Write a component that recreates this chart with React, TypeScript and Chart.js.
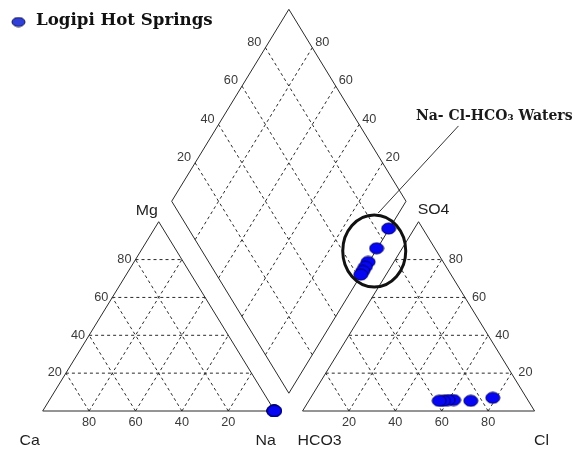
import { useEffect, useRef } from "react";
import { Chart, registerables } from "chart.js";

Chart.register(...registerables);

// Sample series: Logipi hot spring waters (meq % of total cations / anions)
const seriesLabel = "Logipi Hot Springs";
const groupNote = "Na- Cl-HCO₃ Waters";

const caPct = [0.2, 0.2, 0.3, 0.2, 0.2, 0.1];
const mgPct = [0.1, 0.1, 0.1, 0.1, 0.1, 0.1];
const naPct = [99.7, 99.7, 99.6, 99.7, 99.7, 99.8];

const hco3Pct = [14.5, 24.8, 32.0, 34.4, 36.6, 38.4];
const so4Pct = [7.0, 5.4, 5.8, 5.8, 5.4, 5.4];
const clPct = [78.5, 69.8, 62.2, 59.8, 58.0, 56.2];

const gridSteps = [20, 40, 60, 80];
const cationCorners = ["Ca", "Mg", "Na"];
const anionCorners = ["HCO3", "SO4", "Cl"];

// Layout of the Piper plot in data units (triangle side = 100 across, height = 100 up)
const ANION_OFFSET = 112;
const DIAMOND_BASE = { x: 106.1, y: 9.4 };
const DIAMOND_DX = 50.5;
const DIAMOND_DY = 101.4;

type Pt = { x: number; y: number };

const cationXY = (ca: number, mg: number, na: number): Pt => {
  const s = ca + mg + na;
  return { x: ((na + mg / 2) / s) * 100, y: (mg / s) * 100 };
};
const anionXY = (hco3: number, so4: number, cl: number): Pt => {
  const s = hco3 + so4 + cl;
  return { x: ANION_OFFSET + ((cl + so4 / 2) / s) * 100, y: (so4 / s) * 100 };
};
// na: Na+K %, hco3: HCO3 % -> position in the central diamond
const diamondXY = (na: number, hco3: number): Pt => {
  const a = (100 - hco3) / 100;
  const b = (100 - na) / 100;
  return {
    x: DIAMOND_BASE.x + a * DIAMOND_DX - b * DIAMOND_DX,
    y: DIAMOND_BASE.y + (a + b) * DIAMOND_DY,
  };
};

function makeMarker(w: number, h: number, fill: string, stroke: string) {
  const c = document.createElement("canvas");
  c.width = w;
  c.height = h;
  const g = c.getContext("2d")!;
  g.beginPath();
  g.ellipse(w / 2, h / 2, w / 2 - 1, h / 2 - 1, 0, 0, Math.PI * 2);
  g.fillStyle = fill;
  g.fill();
  g.lineWidth = 1;
  g.strokeStyle = stroke;
  g.stroke();
  return c;
}

function seg(a: Pt, b: Pt, dashed: boolean, color = "#2a2a2a", width = 1) {
  return {
    data: [a, b],
    showLine: true,
    borderColor: color,
    borderWidth: width,
    borderDash: dashed ? [3, 3] : [],
    pointRadius: 0,
    pointHoverRadius: 0,
    fill: false,
    order: 2,
  };
}

function buildFrame() {
  const out: any[] = [];
  // cation triangle
  const cA = { x: 0, y: 0 }, cB = { x: 100, y: 0 }, cC = { x: 50, y: 100 };
  out.push(seg(cA, cB, false), seg(cB, cC, false), seg(cC, cA, false));
  // anion triangle
  const o = ANION_OFFSET;
  const aA = { x: o, y: 0 }, aB = { x: o + 100, y: 0 }, aC = { x: o + 50, y: 100 };
  out.push(seg(aA, aB, false), seg(aB, aC, false), seg(aC, aA, false));
  for (const v of gridSteps) {
    for (const off of [0, o]) {
      out.push(seg({ x: off + v / 2, y: v }, { x: off + 100 - v / 2, y: v }, true));
      out.push(seg({ x: off + v, y: 0 }, { x: off + v + (100 - v) / 2, y: 100 - v }, true));
      out.push(seg({ x: off + 100 - v, y: 0 }, { x: off + (100 - v) / 2, y: 100 - v }, true));
    }
  }
  // diamond
  const dB = diamondXY(100, 100), dR = diamondXY(100, 0), dT = diamondXY(0, 0), dL = diamondXY(0, 100);
  out.push(seg(dB, dR, false), seg(dR, dT, false), seg(dT, dL, false), seg(dL, dB, false));
  for (const v of gridSteps) {
    out.push(seg(diamondXY(v, 100), diamondXY(v, 0), true));
    out.push(seg(diamondXY(100, v), diamondXY(0, v), true));
  }
  // leader line from the grouped samples to their note
  out.push(seg({ x: 144.6, y: 104.6 }, { x: 179.2, y: 150.6 }, false, "#333", 1));
  return out;
}

function drawText(
  ctx: CanvasRenderingContext2D,
  text: string,
  x: number,
  y: number,
  align: CanvasTextAlign,
  font: string,
  color: string,
  stretch = 1.06
) {
  ctx.save();
  ctx.translate(x, y);
  ctx.scale(stretch, 1);
  ctx.font = font;
  ctx.fillStyle = color;
  ctx.textAlign = align;
  ctx.textBaseline = "middle";
  ctx.fillText(text, 0, 0);
  ctx.restore();
}

let legendMarker: HTMLCanvasElement;

const decor = {
  id: "piperDecor",
  afterDatasetsDraw(chart: any) {
    const { ctx, scales } = chart;
    const px = (p: Pt) => ({ x: scales.x.getPixelForValue(p.x), y: scales.y.getPixelForValue(p.y) });
    const tickFont = "12px 'Liberation Sans', Arial, sans-serif";
    const tickColor = "#3a3a3a";
    const o = ANION_OFFSET;

    for (const v of gridSteps) {
      // cation triangle: Ca along the base, Mg along the left edge
      let p = px({ x: v, y: 0 });
      drawText(ctx, String(100 - v), p.x, p.y + 12, "center", tickFont, tickColor);
      p = px({ x: v / 2, y: v });
      drawText(ctx, String(v), p.x - 4, p.y, "right", tickFont, tickColor);
      // anion triangle: Cl along the base, SO4 along the right edge
      p = px({ x: o + v, y: 0 });
      drawText(ctx, String(v), p.x, p.y + 12, "center", tickFont, tickColor);
      p = px({ x: o + 100 - v / 2, y: v });
      drawText(ctx, String(v), p.x + 7, p.y, "left", tickFont, tickColor);
      // diamond: SO4+Cl on upper-left edge, Ca+Mg on upper-right edge
      p = px(diamondXY(0, 100 - v));
      drawText(ctx, String(v), p.x - 4, p.y - 5, "right", tickFont, tickColor);
      p = px(diamondXY(100 - v, 0));
      drawText(ctx, String(v), p.x + 3, p.y - 5, "left", tickFont, tickColor);
    }

    const cornerFont = "15px 'Liberation Sans', Arial, sans-serif";
    const cornerColor = "#1e1e1e";
    let p = px({ x: 0, y: 0 });
    drawText(ctx, cationCorners[0], p.x - 13, p.y + 30, "center", cornerFont, cornerColor);
    p = px({ x: 50, y: 100 });
    drawText(ctx, cationCorners[1], p.x - 12, p.y - 11, "center", cornerFont, cornerColor);
    p = px({ x: 100, y: 0 });
    drawText(ctx, cationCorners[2], p.x - 9, p.y + 30, "center", cornerFont, cornerColor);
    p = px({ x: o, y: 0 });
    drawText(ctx, anionCorners[0], p.x + 17, p.y + 30, "center", cornerFont, cornerColor);
    p = px({ x: o + 50, y: 100 });
    drawText(ctx, anionCorners[1], p.x + 15, p.y - 12, "center", cornerFont, cornerColor);
    p = px({ x: o + 100, y: 0 });
    drawText(ctx, anionCorners[2], p.x + 7, p.y + 30, "center", cornerFont, cornerColor);

    // ring around the Na-Cl-HCO3 group in the diamond
    const c = px({ x: 142.9, y: 84.5 });
    ctx.save();
    ctx.beginPath();
    ctx.ellipse(c.x, c.y, 31.5, 36, 0, 0, Math.PI * 2);
    ctx.lineWidth = 3;
    ctx.strokeStyle = "#111";
    ctx.stroke();
    ctx.restore();

    const noteFont = "bold 14px 'DejaVu Serif', serif";
    drawText(ctx, groupNote, 416, 116, "left", noteFont, "#1a1a1a", 1);

    // legend
    ctx.drawImage(legendMarker, 18.5 - legendMarker.width / 2, 22 - legendMarker.height / 2);
    drawText(ctx, seriesLabel, 36, 21, "left", "bold 16px 'DejaVu Serif', serif", "#111", 1.04);
  },
};

export default function App() {
  const ref = useRef<HTMLCanvasElement>(null);

  useEffect(() => {
    const canvas = ref.current!;
    const marker = makeMarker(16, 13, "#0606f2", "#000066");
    legendMarker = makeMarker(15, 11, "#2f3fd8", "#10104a");

    const cationPts = caPct.map((ca, i) => cationXY(ca, mgPct[i], naPct[i]));
    const anionPts = hco3Pct.map((h, i) => anionXY(h, so4Pct[i], clPct[i]));
    const diamondPts = naPct.map((na, i) => diamondXY(na, hco3Pct[i]));

    const pointSet = (data: Pt[]) => ({
      label: seriesLabel,
      data,
      showLine: false,
      pointStyle: marker,
      pointRadius: 7,
      pointHoverRadius: 7,
      order: 0,
    });

    const chart = new Chart(canvas, {
      type: "scatter",
      data: {
        datasets: [pointSet(diamondPts), pointSet(anionPts), pointSet(cationPts), ...buildFrame()],
      },
      options: {
        animation: false,
        responsive: false,
        devicePixelRatio: 1,
        events: [],
        layout: { padding: 0, autoPadding: false },
        plugins: { legend: { display: false }, tooltip: { enabled: false } },
        scales: {
          x: { type: "linear", display: false, min: -18.405, max: 229.0 },
          y: { type: "linear", display: false, min: -20.07, max: 217.12 },
        },
      },
      plugins: [decor],
    });
    return () => chart.destroy();
  }, []);

  return (
    <div style={{ position: "absolute", left: 0, top: 0, width: 574, height: 449, background: "#fff" }}>
      <canvas ref={ref} width={574} height={449} />
    </div>
  );
}
